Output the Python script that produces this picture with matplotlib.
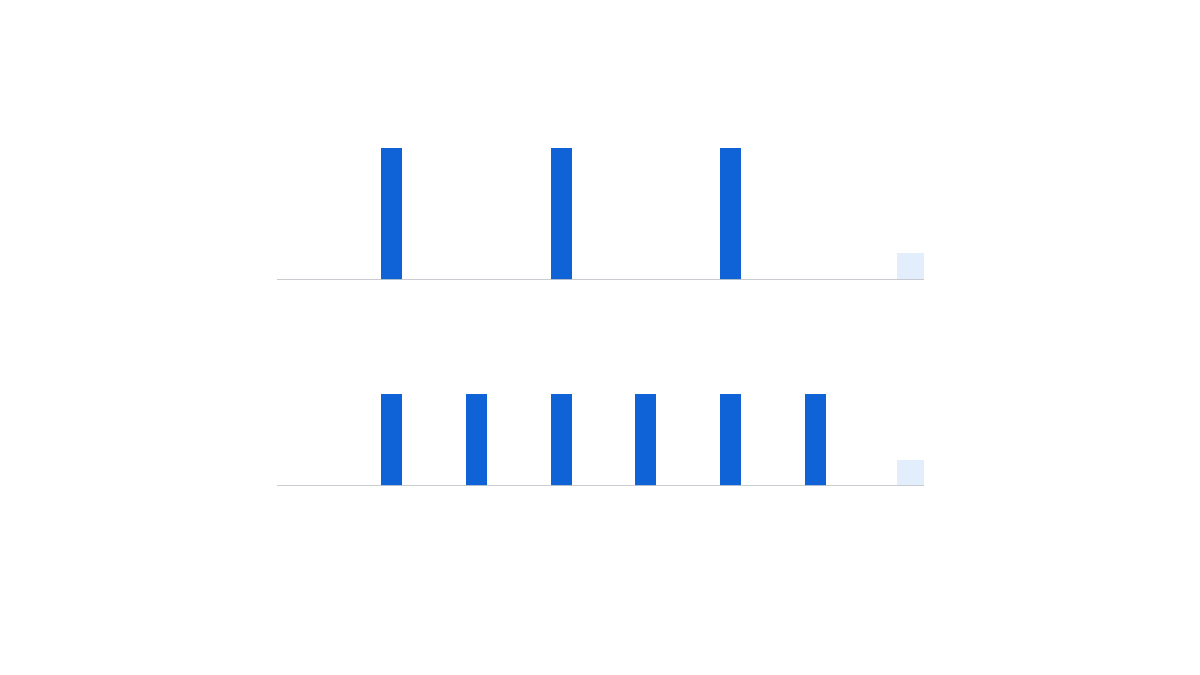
import matplotlib
matplotlib.use("Agg")
import matplotlib.pyplot as plt

# ==========================================
# Data
# ==========================================
slots = [1, 2, 3, 4, 5, 6]
top_values = [10, 0, 10, 0, 10, 0]
bottom_values = [7, 7, 7, 7, 7, 7]
placeholder_slot = 7.12
placeholder_value = 2

BLUE = "#0f63d6"
PALE = "#e3eefc"
BASE = "#c4c7cc"

W, H = 1200, 675
PX_PER_UNIT = 13.15
SLOT_PX = 84.8


def frame(y_base_px):
    # axes rectangle in figure fraction, baseline at y_base_px (from top)
    x0, x1 = 277, 924
    height_px = 15 * PX_PER_UNIT
    return [x0 / W, (H - y_base_px) / H, (x1 - x0) / W, height_px / H]


def draw_row(ax, values):
    xs = [s for s, v in zip(slots, values) if v > 0]
    vs = [v for v in values if v > 0]
    ax.bar(xs, vs, width=21 / SLOT_PX, color=BLUE, zorder=2)
    ax.bar([placeholder_slot], [placeholder_value], width=27 / SLOT_PX,
           color=PALE, zorder=1)
    ax.axhline(0, color=BASE, linewidth=1.3, zorder=3)
    ax.set_xlim(-0.35, 7.28)
    ax.set_ylim(0, 15)
    ax.axis("off")


fig = plt.figure(figsize=(12, 6.75), dpi=100)
fig.patch.set_facecolor("white")

ax_top = fig.add_axes(frame(279.5))
draw_row(ax_top, top_values)

ax_bot = fig.add_axes(frame(486))
draw_row(ax_bot, bottom_values)

plt.savefig("out.png", dpi=100, facecolor="white")
plt.close()
